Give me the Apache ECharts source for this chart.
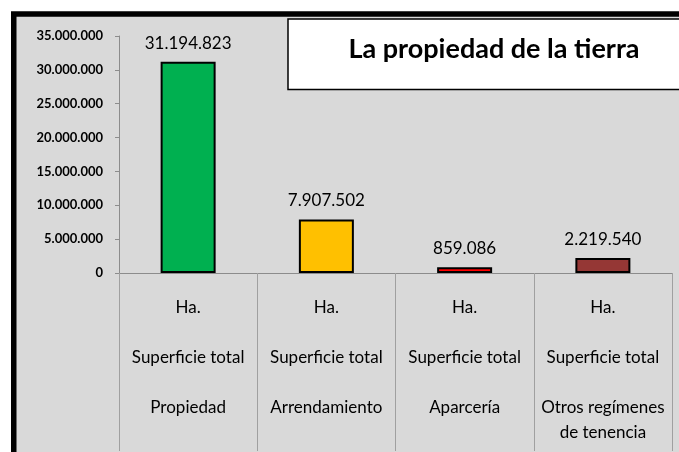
<!DOCTYPE html>
<html>
<head>
<meta charset="utf-8">
<script src="https://cdn.jsdelivr.net/npm/echarts@6/dist/echarts.min.js"></script>
<style>
  html, body { margin: 0; padding: 0; background: #ffffff; }
  #main { width: 679px; height: 452px; }
</style>
</head>
<body>
<div id="main"></div>
<script>
// datos
var titulo = 'La propiedad de la tierra';
var unidad = 'Ha.';
var medida = 'Superficie total';
var regimenes = ['Propiedad', 'Arrendamiento', 'Aparcería', 'Otros regímenes\nde tenencia'];
var superficie = [31194823, 7907502, 859086, 2219540];
var colores = ['#00b050', '#ffc000', '#ff0000', '#953735'];
var yMax = 35000000;
var yPaso = 5000000;

// 31194823 -> 31.194.823
function puntos(v) {
    return String(Math.round(v)).replace(/\B(?=(\d{3})+(?!\d))/g, '.');
}

var chartObj = document.getElementById('main');
var chart = echarts.init(chartObj);

var option = {
    animation: false,
    textStyle: { fontFamily: 'Lato' },
    graphic: [
        {
            type: 'rect',
            z: -10,
            shape: { x: 13.75, y: 14, width: 700, height: 500 },
            style: { fill: '#d9d9d9', stroke: '#000000', lineWidth: 5.5 }
        },
        {
            type: 'rect',
            z: -5,
            shape: { x: 288, y: 19, width: 420, height: 70.5 },
            style: { fill: '#ffffff', stroke: '#000000', lineWidth: 1.5 }
        }
    ],
    title: {
        text: titulo,
        left: 489,
        top: 31,
        textAlign: 'center',
        textStyle: {
            fontFamily: 'Lato',
            fontSize: 27,
            fontWeight: 'bold',
            color: '#000000'
        }
    },
    grid: {
        left: 119,
        right: 7,
        top: 36,
        bottom: 179,
        containLabel: false
    },
    xAxis: {
        type: 'category',
        data: regimenes.map(function (r) {
            return unidad + '\n\n' + medida + '\n\n' + r;
        }),
        axisLine: { lineStyle: { color: '#8c8c8c', width: 1 } },
        axisTick: {
            show: true,
            interval: 0,
            length: 178,
            lineStyle: { color: '#a0a0a0', width: 1 }
        },
        axisLabel: {
            interval: 0,
            margin: 22,
            lineHeight: 25,
            fontSize: 17,
            color: '#000000',
            fontFamily: 'Lato'
        }
    },
    yAxis: {
        type: 'value',
        min: 0,
        max: yMax,
        interval: yPaso,
        axisLine: { show: true, lineStyle: { color: '#8c8c8c', width: 1 } },
        axisTick: { show: true, length: 4, lineStyle: { color: '#8c8c8c' } },
        splitLine: { show: false },
        axisLabel: {
            margin: 16,
            fontSize: 13,
            fontWeight: 'bold',
            color: '#000000',
            fontFamily: 'Lato',
            formatter: function (v) { return puntos(v); }
        }
    },
    series: [
        {
            type: 'bar',
            barWidth: 55,
            data: superficie.map(function (v, i) {
                return {
                    value: v,
                    itemStyle: { color: colores[i] }
                };
            }),
            itemStyle: {
                borderColor: '#000000',
                borderWidth: 2
            },
            label: {
                show: true,
                position: 'top',
                distance: 10,
                fontSize: 17,
                color: '#000000',
                fontFamily: 'Lato',
                formatter: function (p) { return puntos(p.value); }
            }
        }
    ]
};

chart.setOption(option);
</script>
</body>
</html>
